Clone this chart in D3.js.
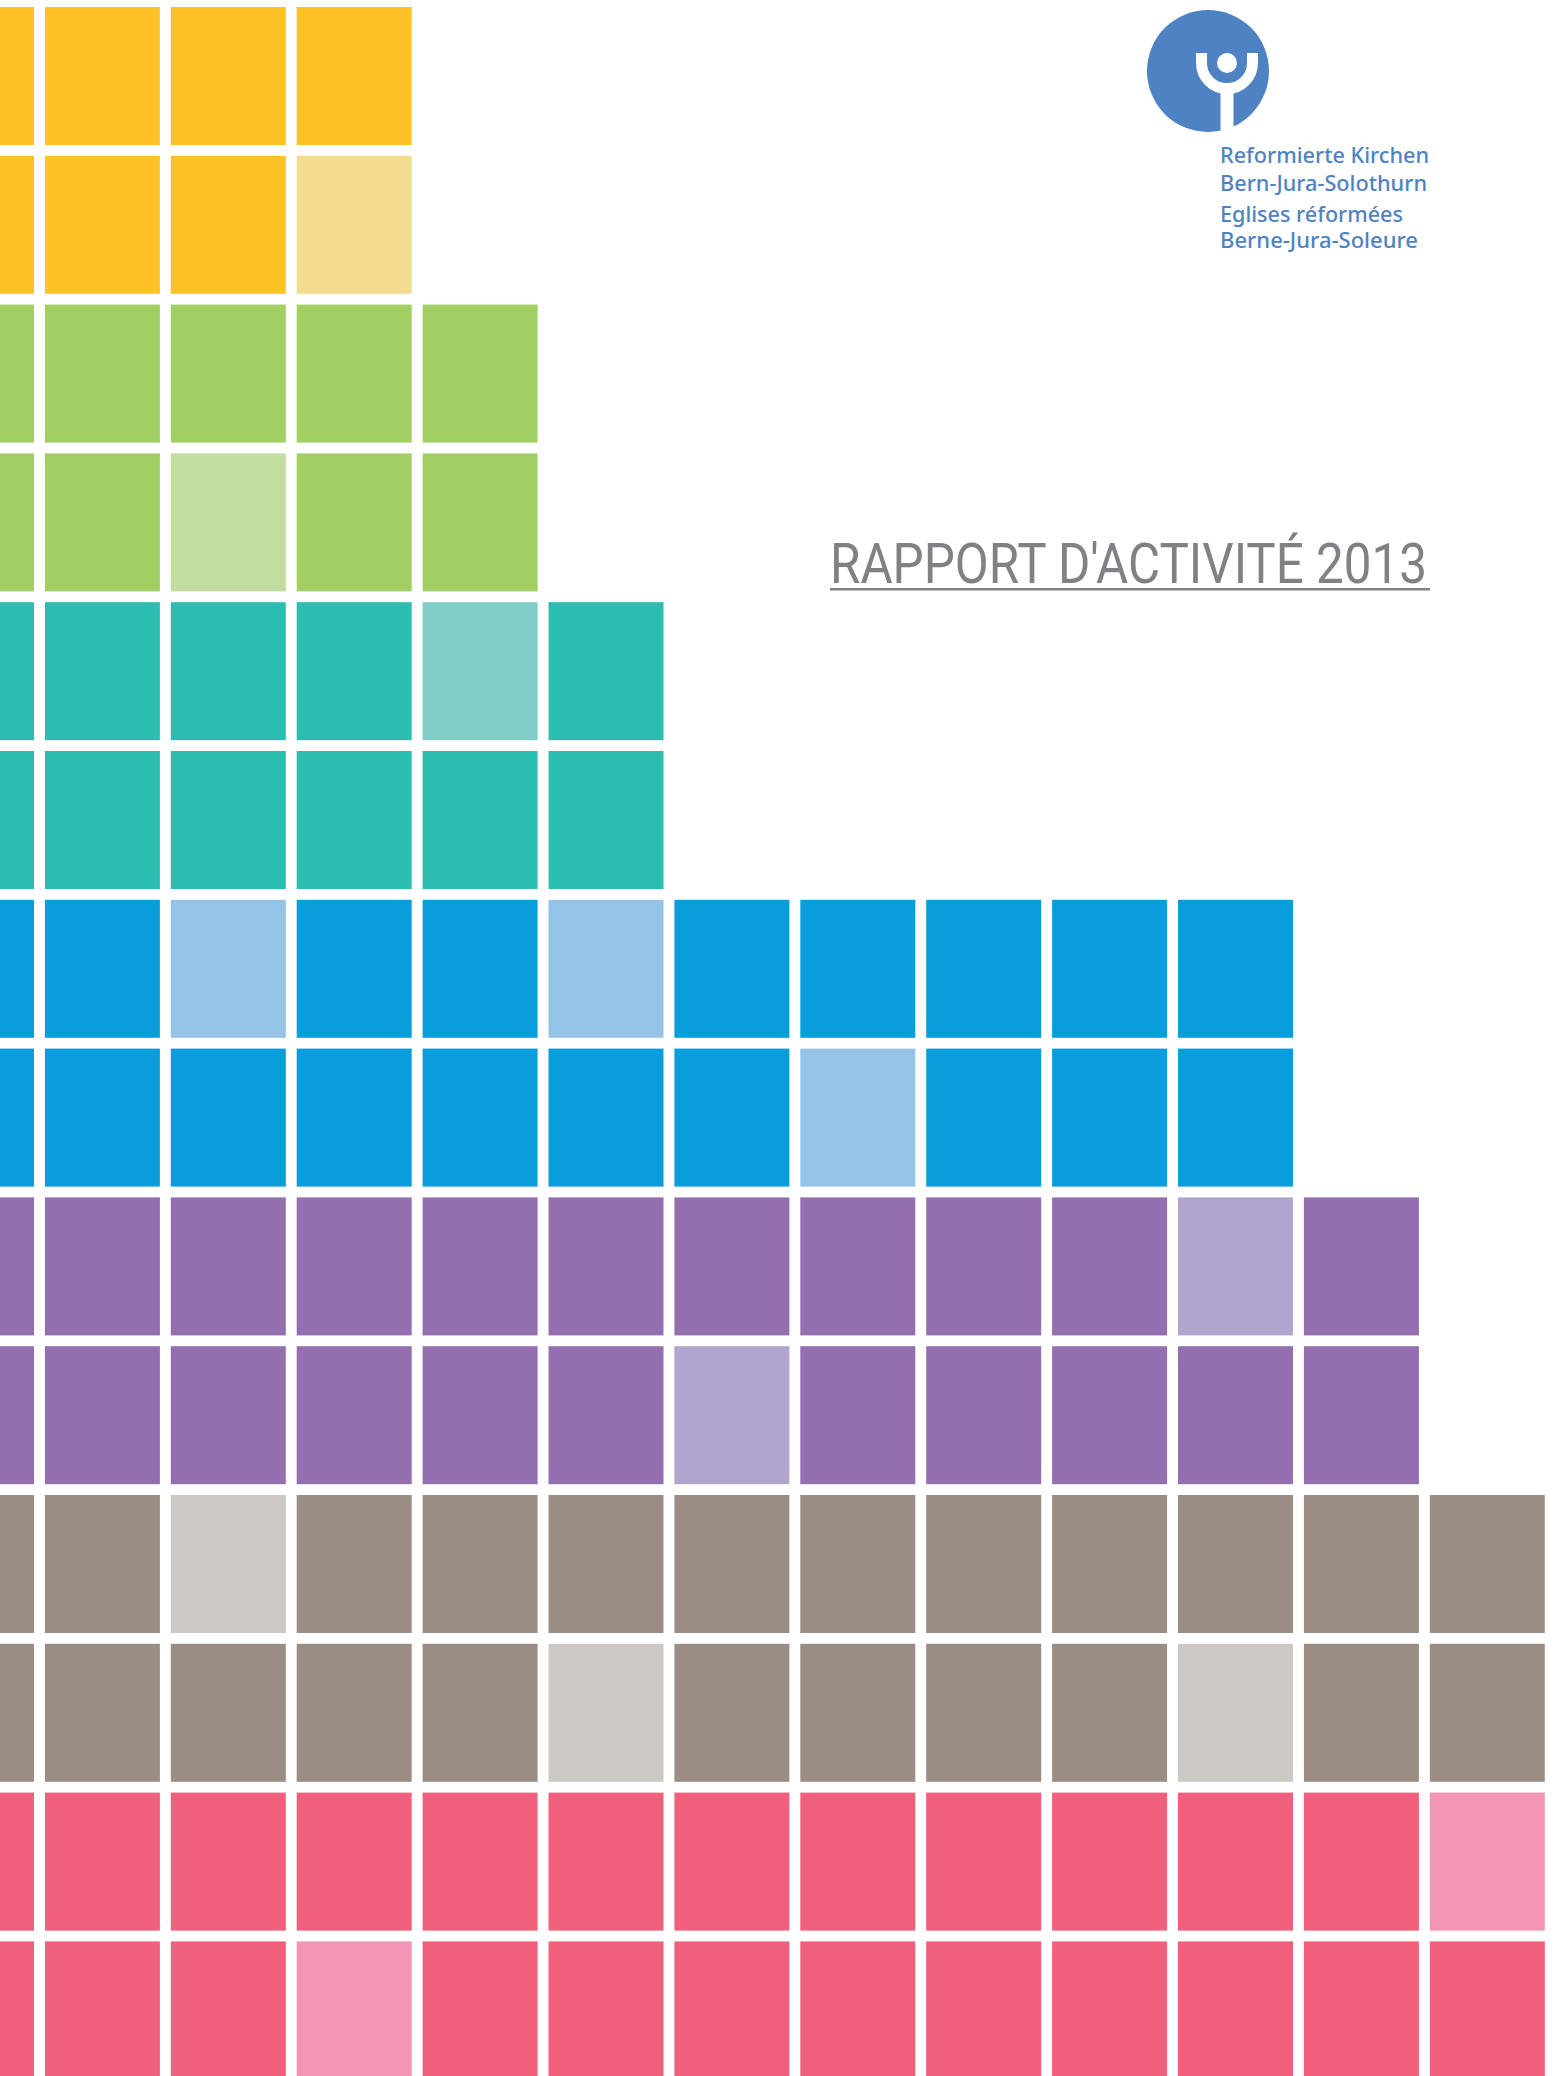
<!DOCTYPE html>
<html>
<head>
<meta charset="utf-8">
<script src="https://cdn.jsdelivr.net/npm/d3@7"></script>
<style>
  html, body { margin: 0; padding: 0; background: #ffffff; overflow: hidden; }
  svg { display: block; }
</style>
</head>
<body>
<script>
// ---- data ----
const groups = ["jaune", "vert", "turquoise", "bleu", "violet", "taupe", "rose"];
const groupColors = ["#FDC326", "#A1CF64", "#2CBDB1", "#0A9DDB", "#946FAF", "#9C8D84", "#F0607C"];
const groupLightColors = ["#F2DC8F", "#C1DDA0", "#80CDC8", "#95C3E8", "#B1A5D0", "#CCC8C3", "#F394B4"];
// number of cells in each row (two rows per group)
const rowCounts = [4, 4, 5, 5, 6, 6, 11, 11, 12, 12, 13, 13, 13, 13];
// [row, column] of lighter cells
const lightCells = [[1, 3], [3, 2], [4, 4], [6, 2], [6, 5], [7, 7], [8, 10], [9, 6], [10, 2], [11, 5], [11, 10], [12, 12], [13, 3]];
const logoLines = ["Reformierte Kirchen", "Bern-Jura-Solothurn", "Eglises réformées", "Berne-Jura-Soleure"];
const title = "RAPPORT D'ACTIVITÉ 2013";

// ---- drawing ----
const W = 1555, H = 2076;
const svg = d3.select("body").append("svg").attr("width", W).attr("height", H);

const nCols = d3.max(rowCounts);
const x = d3.scaleBand()
  .domain(d3.range(nCols))
  .range([-81, -81 + nCols * 125.9 - 10.9])
  .paddingInner(10.9 / 125.9).paddingOuter(0);
const y = d3.scaleBand()
  .domain(d3.range(rowCounts.length))
  .range([7, 7 + rowCounts.length * 148.8 - 10.8])
  .paddingInner(10.8 / 148.8).paddingOuter(0);

const lightSet = new Set(lightCells.map(d => d[0] + "-" + d[1]));
const cells = [];
rowCounts.forEach((n, r) => {
  for (let c = 0; c < n; c++) {
    const g = Math.floor(r / 2);
    cells.push({ r, c, g, light: lightSet.has(r + "-" + c) });
  }
});

svg.append("g").selectAll("rect").data(cells).join("rect")
  .attr("x", d => x(d.c))
  .attr("y", d => y(d.r))
  .attr("width", x.bandwidth())
  .attr("height", y.bandwidth())
  .attr("fill", d => d.light ? groupLightColors[d.g] : groupColors[d.g]);

// ---- logo ----
const logoBlue = "#4F82C2";
const logo = svg.append("g");
logo.append("circle").attr("cx", 1208).attr("cy", 71).attr("r", 61).attr("fill", logoBlue);
logo.append("path")
  .attr("d", "M1201.5,53 L1201.5,63 A25.5,25.5 0 0 0 1252.5,63 L1252.5,53")
  .attr("fill", "none").attr("stroke", "#fff").attr("stroke-width", 11);
logo.append("rect").attr("x", 1220.5).attr("y", 86).attr("width", 13).attr("height", 50).attr("fill", "#fff");
logo.append("circle").attr("cx", 1227).attr("cy", 63).attr("r", 10).attr("fill", "#fff");

const logoBaselines = [163, 191, 222, 248];
const logoWidths = [209, 207, 183, 198];
logo.selectAll("text.logo").data(logoLines).join("text")
  .attr("class", "logo")
  .attr("x", 1220)
  .attr("y", (d, i) => logoBaselines[i])
  .attr("textLength", (d, i) => logoWidths[i])
  .attr("lengthAdjust", "spacingAndGlyphs")
  .attr("font-family", "'Noto Sans', 'Open Sans', sans-serif")
  .attr("font-weight", 500)
  .attr("font-size", 22)
  .attr("fill", logoBlue)
  .text(d => d);

// ---- title ----
svg.append("text")
  .attr("x", 830).attr("y", 583)
  .attr("textLength", 597)
  .attr("lengthAdjust", "spacingAndGlyphs")
  .attr("font-family", "Roboto, 'Open Sans', sans-serif")
  .attr("font-weight", 400)
  .attr("font-size", 56)
  .attr("fill", "#808085")
  .text(title);
svg.append("rect").attr("x", 830).attr("y", 588).attr("width", 600).attr("height", 2.5).attr("fill", "#808085");
</script>
</body>
</html>
